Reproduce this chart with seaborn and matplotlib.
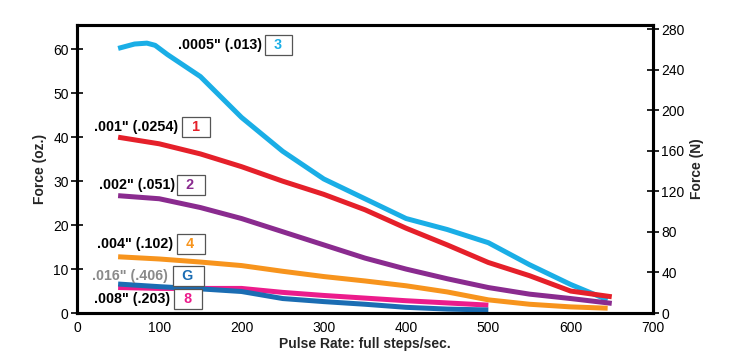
import matplotlib
matplotlib.use("Agg")
import matplotlib.pyplot as plt
import seaborn as sns
import pandas as pd

# Data (pulse rate vs force in oz.)
x_3 = [50, 70, 85, 95, 110, 150, 200, 250, 300, 350, 400, 450, 500, 550, 600, 645]
f_3 = [60.2, 61.2, 61.4, 60.9, 58.8, 53.8, 44.5, 36.8, 30.5, 26.0, 21.5, 19.0, 16.0, 11.0, 6.5, 3.0]

x_1 = [50, 100, 150, 200, 250, 300, 350, 400, 450, 500, 550, 600, 650]
f_1 = [40.0, 38.5, 36.2, 33.3, 30.0, 27.0, 23.5, 19.3, 15.5, 11.5, 8.5, 5.0, 3.7]

x_2 = [50, 100, 150, 200, 250, 300, 350, 400, 450, 500, 550, 600, 650]
f_2 = [26.7, 26.0, 24.0, 21.5, 18.5, 15.5, 12.5, 10.0, 7.8, 5.8, 4.3, 3.3, 2.2]

x_4 = [50, 100, 150, 200, 250, 300, 350, 400, 450, 500, 550, 600, 645]
f_4 = [12.8, 12.3, 11.6, 10.8, 9.5, 8.3, 7.3, 6.2, 4.8, 3.0, 2.0, 1.4, 1.1]

x_8 = [50, 100, 150, 200, 250, 300, 350, 400, 450, 500]
f_8 = [5.8, 5.6, 5.6, 5.6, 4.7, 4.0, 3.4, 2.8, 2.3, 1.8]

x_g = [50, 100, 150, 200, 225, 250, 300, 350, 400, 450, 500]
f_g = [6.6, 6.0, 5.5, 4.9, 4.1, 3.3, 2.6, 2.0, 1.3, 0.9, 0.7]

series = ["3", "1", "2", "4", "8", "G"]
colors = ["#1aaee6", "#e5202a", "#8a2b8f", "#f7941d", "#ec1c8c", "#1b6db3"]
labels = ['.0005" (.013)', '.001" (.0254)', '.002" (.051)', '.004" (.102)', '.008" (.203)', '.016" (.406)']
label_end = [225, 123, 119, 117, 113, 111]
label_y = [60.9, 42.3, 29.1, 15.7, 3.2, 8.4]
box_x = [245, 145, 138, 138, 135, 135]

frames = []
for s, xs, fs in zip(series, [x_3, x_1, x_2, x_4, x_8, x_g], [f_3, f_1, f_2, f_4, f_8, f_g]):
    frames.append(pd.DataFrame({"rate": xs, "force": fs, "step": s}))
df = pd.concat(frames, ignore_index=True)

sns.set_style("white")
plt.rcParams["font.family"] = ["Liberation Sans", "DejaVu Sans"]

fig = plt.figure(figsize=(7.29, 3.64), dpi=100)
ax = fig.add_axes([0.1056, 0.140, 0.79, 0.791])

sns.lineplot(data=df, x="rate", y="force", hue="step", hue_order=series,
             palette=colors, linewidth=3.6, legend=False, ax=ax,
             sort=False)
for line in ax.lines:
    line.set_solid_joinstyle("round")
    line.set_solid_capstyle("butt")

for lab, lx, ly, bx, c, s in zip(labels, label_end, label_y, box_x, colors, series):
    tcol = "#8a8a8a" if s == "G" else "black"
    ax.text(lx, ly, lab, fontsize=10.3, fontweight="bold", color=tcol,
            ha="right", va="center")
    ax.text(bx, ly, "\u2002" + s + "\u2002", fontsize=10.3, fontweight="bold", color=c,
            ha="center", va="center",
            bbox=dict(boxstyle="square,pad=0.2", fc="white", ec="#555555", lw=0.9))

ax.set_xlim(0, 700)
ax.set_ylim(0, 65.5)
ax.set_xticks(range(0, 701, 100))
ax.set_yticks(range(0, 61, 10))
ax.set_xlabel("Pulse Rate: full steps/sec.", fontsize=10, fontweight="bold", labelpad=1)
ax.set_ylabel("Force (oz.)", fontsize=10, fontweight="bold", labelpad=4)

ax2 = ax.twinx()
ax2.set_ylim(0, 284)
ax2.set_yticks(range(0, 281, 40))
ax2.set_ylabel("Force (N)", fontsize=10, fontweight="bold", labelpad=4)

for a in (ax, ax2):
    for sp in a.spines.values():
        sp.set_linewidth(2.2)
        sp.set_color("black")
    a.tick_params(direction="inout", length=8, width=1.2, labelsize=10,
                  colors="black", pad=2)

fig.savefig("out.png", dpi=100)
